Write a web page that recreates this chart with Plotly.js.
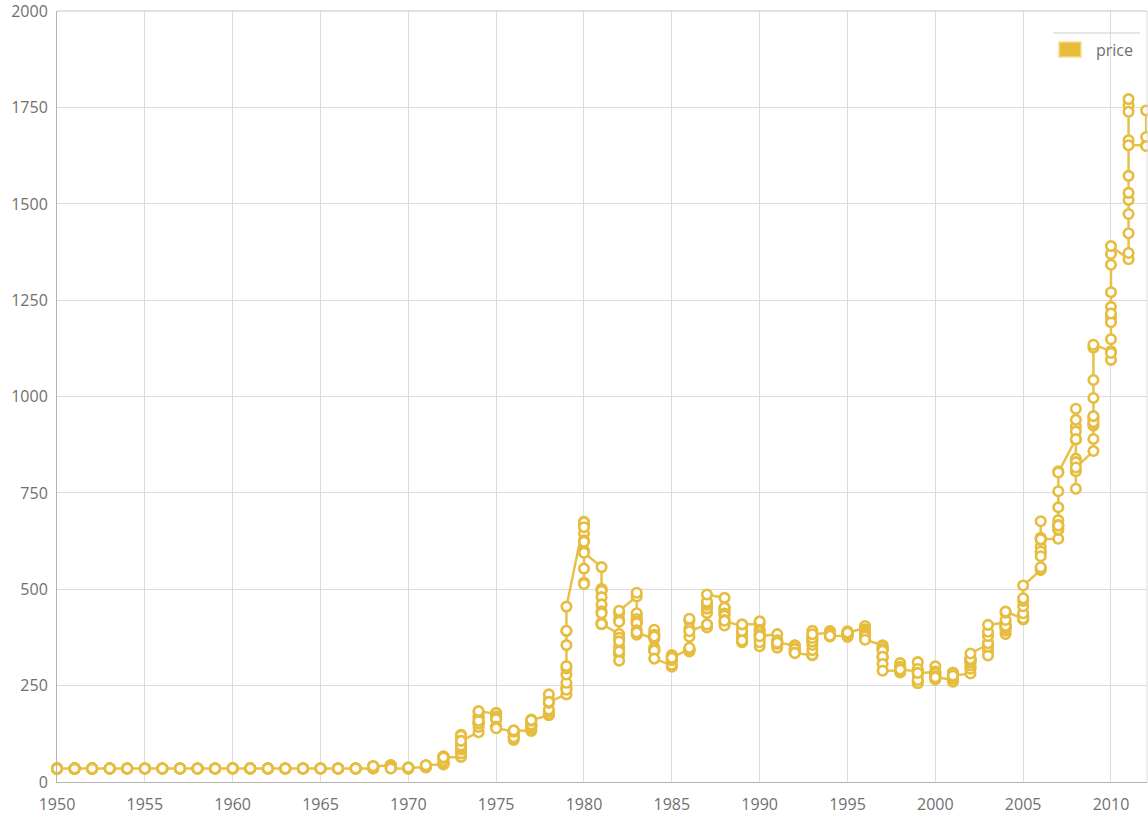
<!DOCTYPE html>
<html>
<head>
<meta charset="utf-8">
<script src="https://cdn.plot.ly/plotly-3.0.1.min.js"></script>
<style>
  html, body { margin: 0; padding: 0; background: #ffffff; }
  #chart { width: 1148px; height: 816px; }
</style>
</head>
<body>
<div id="chart"></div>
<script>
// Monthly gold price (USD/oz), one row per year, Jan..Dec
const firstYear = 1950;
const price1950s = [
  [34.73,34.73,34.73,34.73,34.73,34.73,34.73,34.73,34.73,34.73,34.73,34.72],
  [34.72,34.72,34.73,34.73,34.73,34.72,34.72,34.72,34.71,34.70,34.70,34.70],
  [34.65,34.60,34.60,34.60,34.60,34.60,34.60,34.60,34.62,34.65,34.68,34.70],
  [34.75,34.80,34.85,34.88,34.90,34.90,34.92,34.95,34.95,34.95,34.96,34.97],
  [35.00,35.02,35.04,35.05,35.05,35.05,35.06,35.06,35.05,35.05,35.04,35.03],
  [35.03,35.03,35.03,35.03,35.03,35.03,35.03,35.02,35.02,35.01,35.00,35.00],
  [34.99,34.99,34.99,34.99,34.99,34.99,34.98,34.98,34.97,34.97,34.96,34.96],
  [34.95,34.95,34.95,34.95,34.95,34.95,34.95,34.96,34.97,35.00,35.05,35.08],
  [35.10,35.10,35.10,35.10,35.10,35.10,35.10,35.10,35.10,35.10,35.10,35.10],
  [35.10,35.10,35.10,35.10,35.10,35.10,35.10,35.10,35.10,35.10,35.10,35.10]
];
const price1960s = [
  [35.10,35.10,35.10,35.10,35.10,35.10,35.15,35.25,35.50,36.20,35.80,35.50],
  [35.30,35.25,35.25,35.25,35.25,35.25,35.25,35.25,35.25,35.25,35.25,35.25],
  [35.20,35.20,35.20,35.20,35.20,35.20,35.20,35.20,35.20,35.20,35.20,35.20],
  [35.10,35.10,35.10,35.10,35.10,35.10,35.10,35.10,35.10,35.10,35.10,35.10],
  [35.10,35.10,35.10,35.10,35.10,35.10,35.10,35.10,35.10,35.10,35.10,35.10],
  [35.12,35.12,35.12,35.12,35.12,35.12,35.12,35.12,35.12,35.12,35.12,35.12],
  [35.13,35.13,35.13,35.13,35.13,35.13,35.13,35.13,35.13,35.13,35.13,35.13],
  [34.95,34.95,34.95,34.95,34.95,34.95,34.95,34.95,34.95,34.95,34.95,34.95],
  [35.20,35.20,37.00,38.00,41.00,41.00,39.50,39.20,39.50,39.30,40.00,41.00],
  [42.50,43.00,43.50,43.30,43.50,41.50,41.70,41.00,40.60,40.40,36.00,35.00]
];
const price1970s = [
  [34.90,34.90,35.10,35.60,35.90,35.40,35.30,35.40,36.20,37.50,37.40,37.40],
  [37.90,38.70,38.90,39.00,40.50,40.10,41.00,42.70,42.00,42.50,42.90,43.50],
  [45.70,48.30,48.30,49.00,54.60,62.10,65.70,67.00,65.50,64.90,62.90,63.90],
  [65.10,74.20,84.40,90.50,102.0,122.5,120.2,106.8,103.0,100.1,94.80,106.7],
  [129.2,150.2,168.4,172.2,163.3,154.1,143.0,154.6,151.8,158.8,181.7,183.9],
  [176.3,179.6,178.2,169.9,167.4,164.2,165.7,163.1,144.1,142.8,142.9,139.3],
  [131.5,131.1,132.6,128.2,127.1,125.8,117.9,109.2,114.1,116.1,130.5,133.9],
  [132.3,136.3,148.2,149.2,146.7,140.8,143.4,144.8,149.2,158.9,162.0,160.4],
  [173.2,178.2,183.7,175.2,176.3,183.1,188.2,206.1,212.4,227.4,206.0,207.8],
  [227.3,245.7,242.0,239.2,257.6,279.1,294.7,300.8,355.2,391.7,392.5,455.1]
];
const price1980s = [
  [675.3,665.3,553.6,517.4,513.8,600.7,645.0,627.3,673.6,661.2,623.5,594.9],
  [557.6,500.8,499.8,495.8,479.7,460.8,409.3,410.1,443.1,437.8,413.4,410.1],
  [384.0,374.2,330.8,350.5,333.9,314.9,339.0,364.9,437.9,422.5,415.8,444.3],
  [481.5,491.0,419.7,432.4,437.9,412.8,422.8,416.3,411.8,393.7,381.9,388.1],
  [370.8,386.3,394.9,381.7,377.5,377.7,347.5,347.7,341.1,340.2,341.2,320.2],
  [302.8,299.3,304.3,324.4,316.5,316.9,317.4,329.5,323.5,325.1,325.3,322.4],
  [345.4,338.9,345.7,340.4,342.6,342.7,348.5,376.7,418.1,423.5,398.3,391.3],
  [408.3,401.0,408.8,438.4,460.2,449.6,450.8,460.8,460.1,465.7,467.6,486.5],
  [477.7,442.1,443.6,452.1,451.3,452.1,436.8,431.3,412.9,406.2,420.0,418.5],
  [404.0,387.8,390.2,384.3,371.0,367.6,375.0,365.4,362.6,367.0,391.8,409.0]
];
const price1990s = [
  [410.1,416.8,393.1,374.3,369.0,352.3,362.5,394.8,389.3,380.7,381.6,378.2],
  [383.6,363.8,363.3,358.4,356.8,366.7,367.7,356.2,348.7,358.7,359.6,361.4],
  [354.5,353.9,344.3,338.6,337.2,340.8,352.7,342.9,345.4,344.4,335.0,334.8],
  [329.0,329.3,330.1,342.2,367.2,371.4,392.1,379.3,355.4,364.2,373.8,383.3],
  [387.0,382.0,384.0,377.3,381.4,385.6,385.5,380.4,391.6,389.8,384.4,379.3],
  [378.6,376.6,382.1,391.0,385.2,387.6,386.2,383.7,383.1,383.1,385.5,387.5],
  [399.5,404.8,396.2,392.8,391.9,385.3,383.5,387.5,383.1,381.1,377.9,369.2],
  [354.9,346.6,351.8,344.5,343.8,340.8,324.1,324.0,322.8,324.9,306.0,288.7],
  [289.3,297.5,295.9,308.4,299.1,292.3,292.9,284.1,289.0,296.1,294.3,291.7],
  [287.1,287.3,286.0,282.6,276.4,261.3,256.1,256.7,264.7,311.0,293.2,283.1]
];
const price2000s = [
  [284.6,300.1,286.3,280.0,275.3,285.7,282.0,274.5,273.7,270.0,266.0,271.5],
  [265.5,261.9,263.0,260.5,272.4,270.2,267.5,272.4,283.4,283.1,276.2,275.9],
  [281.7,295.5,294.0,302.7,314.5,321.2,313.3,310.3,319.2,316.6,319.2,333.4],
  [356.9,359.0,340.6,328.2,355.7,356.4,351.0,359.8,378.9,378.9,389.9,407.6],
  [413.8,404.9,406.7,403.0,383.8,392.4,398.1,400.5,405.3,420.5,439.4,442.1],
  [424.0,423.4,434.2,429.2,421.9,430.7,424.5,437.9,456.0,469.9,476.7,509.8],
  [549.9,555.0,557.1,610.6,676.5,596.2,633.7,632.6,598.2,585.8,627.8,629.8],
  [631.2,664.8,654.9,679.4,666.9,655.5,665.3,665.4,712.7,754.6,806.3,803.2],
  [889.6,922.3,968.4,909.7,888.7,889.5,939.8,839.0,829.9,806.6,760.9,816.1],
  [858.7,943.0,924.3,890.2,928.6,945.7,934.2,949.4,996.6,1043.2,1127.0,1134.7]
];
const price2010s = [
  [1117.9,1095.4,1113.3,1148.7,1205.4,1232.9,1192.9,1215.8,1271.0,1342.0,1369.9,1390.6],
  [1356.4,1372.7,1424.0,1473.8,1510.4,1528.7,1572.8,1755.8,1771.9,1665.2,1739.0,1652.3],
  [1652.0,1742.6,1673.8,1650.1]
];
const seriesName = "price";
const yTicks = [0, 250, 500, 750, 1000, 1250, 1500, 1750, 2000];

// build flat series: each month is drawn at its year
const rows = [].concat(price1950s, price1960s, price1970s, price1980s, price1990s, price2000s, price2010s);
const xYear = [], yPrice = [];
rows.forEach((row, i) => {
  row.forEach(v => { xYear.push(firstYear + i); yPrice.push(v); });
});

const gold = "#e7c14b";
const grid = "#dcdcdc";
const tickFont = { family: "Open Sans, sans-serif", size: 16, color: "#707070" };

const trace = {
  type: "scatter",
  mode: "lines+markers",
  x: xYear,
  y: yPrice,
  name: seriesName,
  showlegend: false,
  cliponaxis: false,
  line: { color: gold, width: 2.5 },
  marker: { symbol: "circle", size: 9.5, color: "#ffffff", line: { color: "#e6bd3f", width: 2.6 } },
  hoverinfo: "x+y"
};

// plot area: x 57..1147, y 11..782
const plotTop = 11, plotBottom = 782;
const pw = 1090, ph = plotBottom - plotTop;
const px = v => (v - 57) / pw;
const py = v => (plotBottom - v) / ph;

const layout = {
  width: 1148,
  height: 816,
  margin: { l: 57, r: 1, t: plotTop, b: 816 - plotBottom, pad: 0 },
  paper_bgcolor: "#ffffff",
  plot_bgcolor: "#ffffff",
  showlegend: false,
  xaxis: {
    range: [1950, 2012.05],
    tick0: 1950,
    dtick: 5,
    tickmode: "linear",
    showgrid: true,
    gridcolor: grid,
    gridwidth: 1,
    zeroline: false,
    showline: true,
    linecolor: "#b4b4b4",
    linewidth: 1,
    ticks: "",
    ticklabelstandoff: 8,
    tickfont: tickFont,
    fixedrange: true
  },
  yaxis: {
    range: [0, 2000.6],
    tickmode: "array",
    tickvals: yTicks,
    ticktext: yTicks.map(String),
    showgrid: true,
    gridcolor: grid,
    gridwidth: 1,
    zeroline: false,
    showline: true,
    linecolor: "#b4b4b4",
    linewidth: 1,
    ticks: "",
    ticklabelstandoff: 5,
    ticklabeloverflow: "allow",
    tickfont: tickFont,
    fixedrange: true
  },
  shapes: [
    // top and right frame edges
    { type: "line", xref: "paper", yref: "paper", x0: 0, x1: 1, y0: 1, y1: 1, line: { color: "#c4c4c4", width: 1 } },
    { type: "line", xref: "paper", yref: "paper", x0: 1, x1: 1, y0: 0, y1: 1, line: { color: grid, width: 1 } },
    // legend rule
    { type: "line", xref: "paper", yref: "paper", x0: px(1053), x1: px(1140), y0: py(33), y1: py(33), line: { color: "#cfcfcf", width: 1 } },
    // legend swatch
    { type: "rect", xref: "paper", yref: "paper", x0: px(1059), x1: px(1081), y0: py(57), y1: py(42), fillcolor: "#e8bd3a", line: { color: "#f3dc94", width: 1.5 } }
  ],
  annotations: [
    { xref: "paper", yref: "paper", x: px(1094), y: py(50), xanchor: "left", yanchor: "middle", showarrow: false,
      text: seriesName, font: { family: "Open Sans, sans-serif", size: 16, color: "#707070" } }
  ]
};

Plotly.newPlot("chart", [trace], layout, { displayModeBar: false, staticPlot: true });
</script>
</body>
</html>
